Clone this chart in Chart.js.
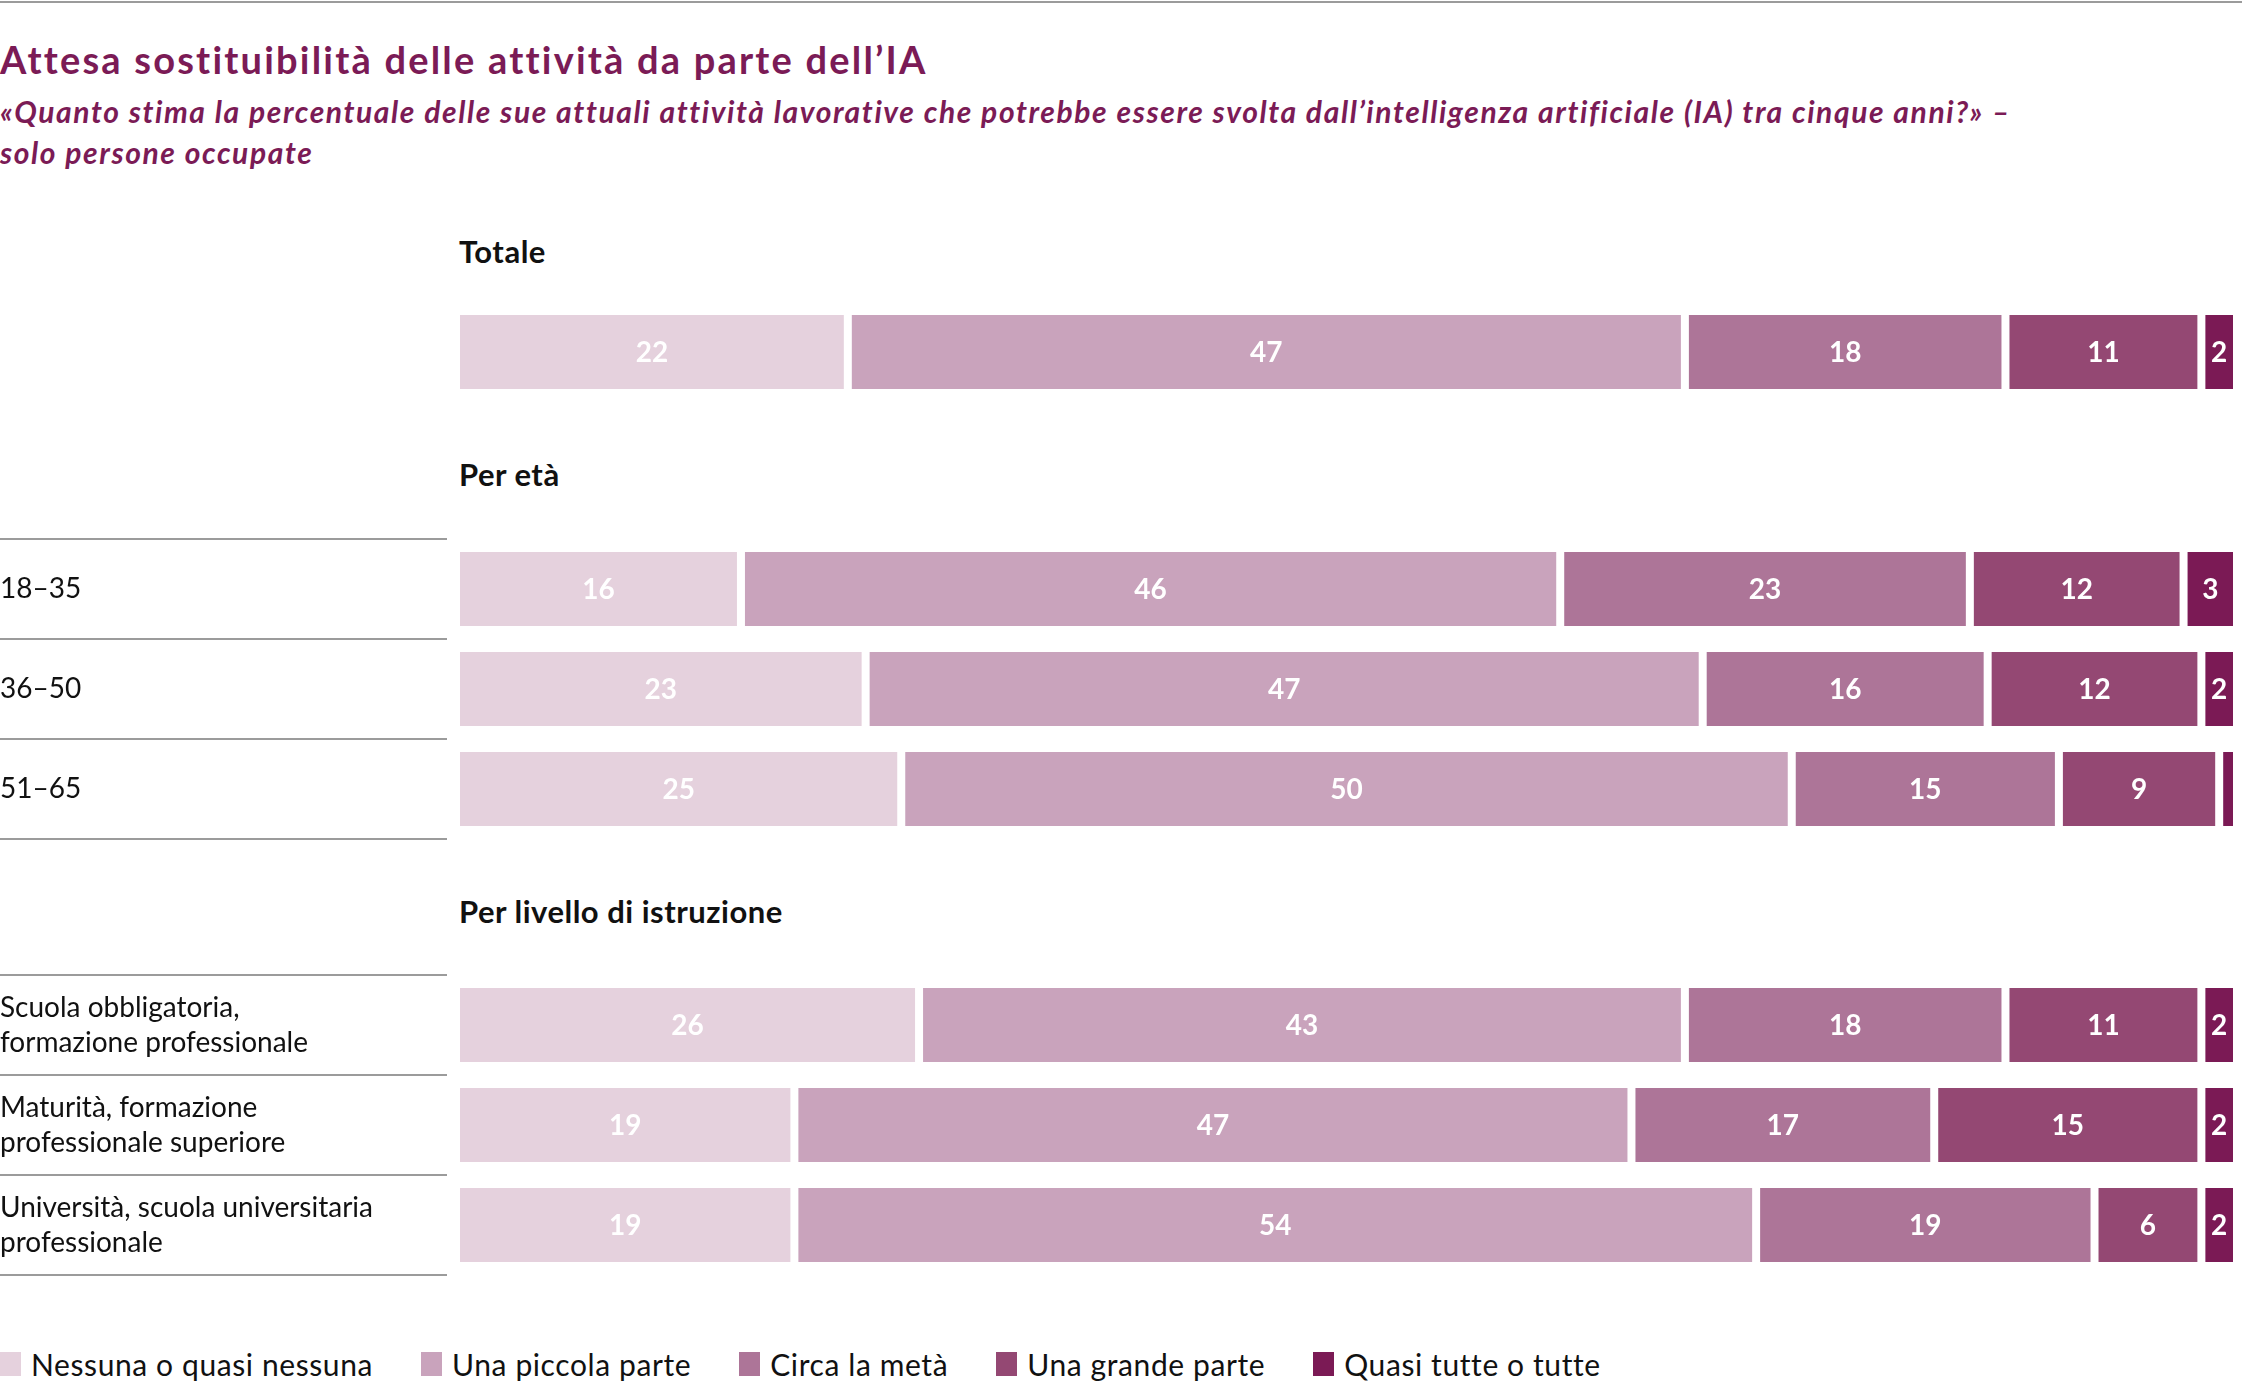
<!DOCTYPE html>
<html>
<head>
<meta charset="utf-8">
<script src="https://cdn.jsdelivr.net/npm/chart.js@4.4.1/dist/chart.umd.min.js"></script>
<style>
  body { margin: 0; width: 2242px; height: 1383px; position: relative; overflow: hidden; background: #fff; font-family: Lato, sans-serif; }
  .abs { position: absolute; }
  #topline { left: 0; top: 1px; width: 2242px; height: 2px; background: #9b9b9b; }
  #title { left: 0; top: 36px; font-size: 38px; letter-spacing: 2.2px; font-weight: 700; color: #7b1b56; white-space: nowrap; }
  #subtitle { left: 0; top: 91px; font-size: 30px; letter-spacing: 1.6px; line-height: 41px; font-weight: 700; font-style: italic; color: #7b1b56; white-space: nowrap; }
  .head { left: 459px; height: 40px; line-height: 40px; font-size: 31px; letter-spacing: 0.5px; font-weight: 700; color: #111; white-space: nowrap; }
  canvas { position: absolute; left: 0; }
  #legend { left: 0; top: 1346px; display: flex; align-items: center; font-size: 30px; letter-spacing: 0.6px; color: #111; }
  #legend .item { display: flex; align-items: center; margin-right: 48px; white-space: nowrap; }
  #legend .box { width: 21px; height: 24px; margin-right: 10px; }
</style>
</head>
<body>
<div id="topline" class="abs"></div>
<div id="title" class="abs">Attesa sostituibilità delle attività da parte dell’IA</div>
<div id="subtitle" class="abs">«Quanto stima la percentuale delle sue attuali attività lavorative che potrebbe essere svolta dall’intelligenza artificiale (IA) tra cinque anni?» –<br>solo persone occupate</div>

<div class="abs head" style="top:231px">Totale</div>
<div class="abs head" style="top:454px">Per età</div>
<div class="abs head" style="top:891px">Per livello di istruzione</div>

<canvas id="chartTotale" width="2242" height="100" style="top:302px"></canvas>
<canvas id="chartEta" width="2242" height="310" style="top:534px"></canvas>
<canvas id="chartIstruzione" width="2242" height="310" style="top:970px"></canvas>

<div id="legend" class="abs"></div>

<script>
// row labels of each block
const labelsTotale = [''];
const labelsEta = ['18–35', '36–50', '51–65'];
const labelsIstruzione = [
    ['Scuola obbligatoria,', 'formazione professionale'],
    ['Maturità, formazione', 'professionale superiore'],
    ['Università, scuola universitaria', 'professionale']
];

const seriesNames = ['Nessuna o quasi nessuna', 'Una piccola parte', 'Circa la metà', 'Una grande parte', 'Quasi tutte o tutte'];
const seriesColors = ['#e5d1dd', '#c9a3bc', '#ad7598', '#944873', '#7b1a55'];

// row order: Totale | 18–35, 36–50, 51–65 | obbligatoria, maturità, università
const nessuna    = [22, 16, 23, 25, 26, 19, 19];
const piccola    = [47, 46, 47, 50, 43, 47, 54];
const meta       = [18, 23, 16, 15, 18, 17, 19];
const grande     = [11, 12, 12,  9, 11, 15,  6];
const quasiTutte = [ 2,  3,  2,  1,  2,  2,  2];
const seriesValues = [nessuna, piccola, meta, grande, quasiTutte];

const AXIS_W = 456;

// grey separators to the left of the bars
const rowLines = {
    id: 'rowLines',
    afterDraw(chart, args, opts) {
        if (!opts.show) return;
        const y = chart.scales.y;
        const ctx = chart.ctx;
        const n = chart.data.labels.length;
        const step = (y.bottom - y.top) / n;
        ctx.save();
        ctx.strokeStyle = '#9b9b9b';
        ctx.lineWidth = 2;
        for (let i = 0; i <= n; i++) {
            const py = Math.round(y.top + i * step);
            ctx.beginPath();
            ctx.moveTo(0, py);
            ctx.lineTo(chart.chartArea.left - 9, py);
            ctx.stroke();
        }
        ctx.restore();
    }
};

// white numbers inside the segments
const barValues = {
    id: 'barValues',
    afterDatasetsDraw(chart) {
        const ctx = chart.ctx;
        ctx.save();
        ctx.font = 'bold 28px Lato';
        ctx.fillStyle = '#fff';
        ctx.textAlign = 'center';
        ctx.textBaseline = 'middle';
        chart.data.datasets.forEach((ds, i) => {
            chart.getDatasetMeta(i).data.forEach((bar, j) => {
                const v = ds.data[j];
                if (v < 2) return;
                const p = bar.getProps(['x', 'base', 'y'], true);
                ctx.fillText(String(v), (p.x + p.base) / 2, p.y + 1);
            });
        });
        ctx.restore();
    }
};

function makeChart(id, labels, from, pad, lines) {
    const rows = labels.length;
    new Chart(document.getElementById(id), {
        type: 'bar',
        data: {
            labels: labels,
            datasets: seriesValues.map((vals, i) => ({
                label: seriesNames[i],
                data: vals.slice(from, from + rows),
                backgroundColor: seriesColors[i],
                borderColor: '#fff',
                borderWidth: { left: 4, right: 4, top: 0, bottom: 0 },
                borderSkipped: false,
                barPercentage: 0.74,
                categoryPercentage: 1
            }))
        },
        options: {
            indexAxis: 'y',
            responsive: false,
            animation: false,
            layout: { padding: { top: pad, bottom: pad, left: 0, right: 5 } },
            plugins: {
                legend: { display: false },
                tooltip: { enabled: false },
                rowLines: { show: lines }
            },
            scales: {
                x: { stacked: true, min: 0, max: 100, display: false },
                y: {
                    stacked: true,
                    grid: { display: false },
                    border: { display: false },
                    afterFit(scale) {
                        // fixed label column, no extra room for the label heights
                        scale.width = AXIS_W;
                        scale.paddingTop = 0;
                        scale.paddingBottom = 0;
                    },
                    ticks: {
                        crossAlign: 'far',
                        color: '#111',
                        font: { family: 'Lato', size: 28, lineHeight: 1.25 }
                    }
                }
            }
        },
        plugins: [rowLines, barValues]
    });
}

makeChart('chartTotale', labelsTotale, 0, 0, false);
makeChart('chartEta', labelsEta, 1, 5, true);
makeChart('chartIstruzione', labelsIstruzione, 4, 5, true);

// legend
const legend = document.getElementById('legend');
seriesNames.forEach((name, i) => {
    const item = document.createElement('div');
    item.className = 'item';
    item.innerHTML = '<span class="box" style="background:' + seriesColors[i] + '"></span><span>' + name + '</span>';
    legend.appendChild(item);
});
</script>
</body>
</html>
